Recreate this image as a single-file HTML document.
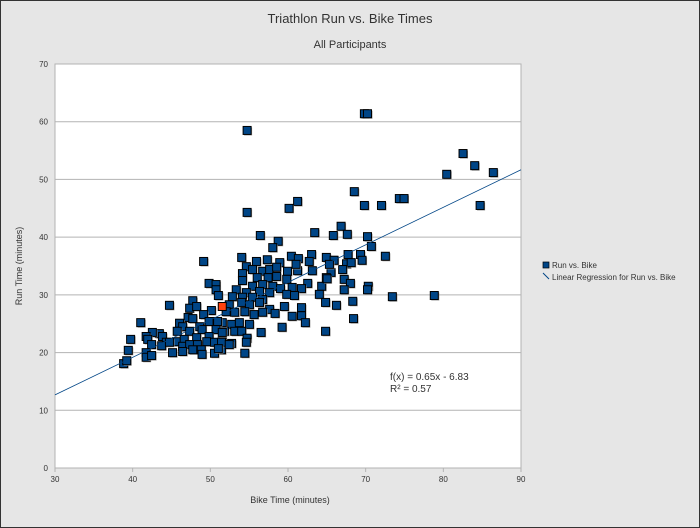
<!DOCTYPE html>
<html><head><meta charset="utf-8"><style>
body{margin:0;background:#fff}
svg{display:block;font-family:"Liberation Sans",sans-serif}
</style></head><body>
<svg id="c" width="700" height="528">
<rect x="0.5" y="0.5" width="699" height="527" fill="#e6e6e6" stroke="#333"/>
<text x="350" y="23" font-size="13" text-anchor="middle" fill="#333">Triathlon Run vs. Bike Times</text>
<text x="350" y="48" font-size="11" text-anchor="middle" fill="#333">All Participants</text>
<rect x="55" y="64" width="466" height="404" fill="#fff" stroke="#b3b3b3"/>
<g id="grid"></g><g id="ticks"></g><g id="marks"></g>
<text x="290" y="503" font-size="9" text-anchor="middle" fill="#333">Bike Time (minutes)</text>
<text transform="translate(22,266) rotate(-90)" font-size="9" text-anchor="middle" fill="#333">Run Time (minutes)</text>
<g>
<rect x="543" y="262" width="6" height="6" fill="#004586" stroke="#000" stroke-width="0.7"/>
<text x="552" y="268" font-size="8" fill="#333">Run vs. Bike</text>
<line x1="543" y1="273" x2="549" y2="279" stroke="#004586"/>
<text x="552" y="280" font-size="8" fill="#333">Linear Regression for Run vs. Bike</text>
</g>
<text x="390" y="380" font-size="10" fill="#333">f(x) = 0.65x - 6.83</text>
<text x="390" y="392" font-size="10" fill="#333">R² = 0.57</text>
</svg>
<script>
const bike=[54.8,69.9,70.3,82.6,84.1,80.5,86.5,84.8,74.4,75.0,69.9,72.1,68.6,61.3,60.2,54.8,66.9,65.9,67.7,70.3,70.8,72.6,67.8,69.4,69.6,65.9,67.6,68.2,67.1,65.6,67.3,68.1,70.4,70.3,67.3,73.5,78.9,68.4,66.3,68.5,63.5,56.5,58.8,58.1,63.1,54.1,54.7,56.0,57.4,59.0,60.5,61.4,62.8,65.0,66.0,65.4,61.3,63.2,54.2,55.5,56.8,57.7,58.6,60.0,56.1,57.5,58.6,59.9,61.1,65.0,62.6,54.2,55.5,56.8,58.1,60.6,61.8,64.4,65.1,53.4,54.7,56.4,57.7,59.1,59.9,60.9,64.1,64.9,52.9,54.2,55.5,56.8,52.5,54.1,55.1,56.4,57.7,59.6,61.8,58.4,60.6,61.8,62.3,52.1,53.2,54.5,55.7,56.8,52.8,53.8,55.1,59.3,64.9,56.6,53.2,54.1,54.8,54.7,52.8,54.5,51.5,51.6,51.9,51.6,49.2,49.9,50.8,50.8,44.8,41.1,47.8,47.4,48.3,51.1,50.2,49.2,47.2,47.8,46.1,46.5,48.7,49.9,51.0,45.8,47.4,49.0,50.8,43.5,42.6,41.8,43.9,44.4,45.7,46.7,48.3,49.9,51.6,42.0,42.5,43.8,44.8,46.5,47.4,48.4,49.6,50.6,51.5,39.8,39.5,41.8,41.8,42.5,45.2,46.5,47.8,48.9,49.0,50.6,51.1,38.9,39.3,52.5];
const run=[58.4,61.3,61.3,54.4,52.3,50.8,51.1,45.4,46.6,46.6,45.4,45.4,47.8,46.1,44.9,44.2,41.8,40.2,40.4,40.0,38.3,36.6,36.9,36.9,35.9,35.9,35.3,35.5,34.3,33.8,32.6,31.9,31.4,30.8,30.8,29.6,29.8,28.8,28.1,25.8,40.7,40.2,39.2,38.1,36.9,36.4,34.8,35.7,36.0,35.5,36.6,36.2,35.7,36.4,35.9,35.2,34.1,34.1,33.6,34.3,34.0,34.3,34.7,34.0,32.9,32.9,33.1,32.6,35.2,32.9,31.9,32.4,31.4,31.7,31.4,31.2,31.0,31.4,32.7,30.8,30.3,30.5,30.3,31.0,30.0,29.8,30.0,28.6,29.6,29.5,29.5,29.1,28.2,28.6,28.2,28.6,27.4,27.9,27.7,26.7,26.2,26.3,25.1,27.0,26.9,27.0,26.5,26.9,24.8,25.1,24.8,24.3,23.6,23.4,23.6,23.6,22.4,21.7,21.5,19.8,20.4,21.8,23.6,25.1,35.7,31.9,31.7,30.8,28.1,25.1,28.9,27.6,27.9,29.8,27.2,26.5,26.0,25.8,25.0,24.4,24.4,25.3,25.3,23.6,23.6,23.9,23.9,23.2,23.4,22.7,22.7,21.7,21.8,22.2,22.5,22.7,23.4,22.2,21.3,21.1,21.7,21.0,21.3,21.3,21.8,21.7,21.7,22.2,20.3,19.9,19.1,19.4,19.9,20.1,20.4,20.4,19.6,19.8,20.6,18.0,18.5,21.3];
const highlight=[51.6,27.9];
const xTicks=[30,40,50,60,70,80,90];
const yTicks=[0,10,20,30,40,50,60,70];
const slope=0.65, intercept=-6.83;
const NS="http://www.w3.org/2000/svg";
const X=v=>55+(v-30)/60*466, Y=v=>468-v/70*404;
function mk(t,a,p){const e=document.createElementNS(NS,t);for(const k in a)e.setAttribute(k,a[k]);p.appendChild(e);return e;}
const grid=document.getElementById('grid'),ticks=document.getElementById('ticks'),marks=document.getElementById('marks');
yTicks.forEach(v=>{
  if(v>0&&v<70){const l=mk('line',{x1:55,x2:521,y1:Y(v),y2:Y(v),stroke:'#b3b3b3'},grid);
  
  }
  const t=mk('text',{x:48,y:Y(v)+3,'font-size':8,'text-anchor':'end',fill:'#333'},ticks);t.textContent=v;
  
  
});
xTicks.forEach(v=>{
  const m=mk('line',{x1:X(v),x2:X(v),y1:468,y2:472,stroke:'#b3b3b3'},ticks);
  
  
  const t=mk('text',{x:X(v),y:482,'font-size':8,'text-anchor':'middle',fill:'#333'},ticks);t.textContent=v;
  
  
});
bike.forEach((b,i)=>{
  const s=mk('rect',{x:X(b)-3.5,y:Y(run[i])-3.5,width:8,height:8,fill:'#999'},marks);
  
  
  const r=mk('rect',{x:X(b)-4.5,y:Y(run[i])-4.5,width:8,height:8,fill:'#004586',stroke:'#000','stroke-width':1},marks);
  
  
});
const h=mk('rect',{x:X(highlight[0])-4.5,y:Y(highlight[1])-4.5,width:8,height:8,fill:'#ff420e',stroke:'#000','stroke-width':1},marks);


const rl=mk('line',{x1:X(30),y1:Y(slope*30+intercept),x2:X(90),y2:Y(slope*90+intercept),stroke:'#004586','stroke-width':0.8},marks);


</script>
</body></html>
